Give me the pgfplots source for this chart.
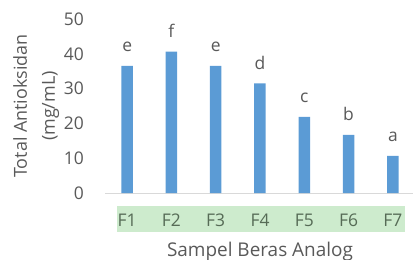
\documentclass[border=0pt]{standalone}
\usepackage{fontspec}
\setmainfont{Open Sans}
\usepackage{pgfplots}
\pgfplotsset{compat=1.18}
\usepackage{pgfplotstable}
\definecolor{barblue}{HTML}{5B9BD5}
\definecolor{txtgray}{HTML}{595959}
\definecolor{txtgreen}{HTML}{566B56}
\definecolor{band}{HTML}{CDEBCD}
\definecolor{axisgray}{HTML}{D9D9D9}
\pgfplotstableread{
x y lab
0 36.5 e
1 40.6 f
2 36.5 e
3 31.5 d
4 21.9 c
5 16.7 b
6 10.7 a
}\datatable
\begin{document}
\begin{tikzpicture}[x=1bp,y=1bp]
\useasboundingbox (0,0) rectangle (413,260);
\fill[band] (117,28) rectangle (405,54);
\begin{axis}[
  at={(105bp,67bp)}, anchor=south west,
  width=310bp, height=174bp, scale only axis,
  xmin=-0.5, xmax=6.5, ymin=0, ymax=50,
  axis x line*=bottom, axis y line*=left,
  y axis line style={draw=none},
  x axis line style={draw=axisgray, line width=1bp},
  xtick={0,...,6}, xticklabels={F1,F2,F3,F4,F5,F6,F7},
  ytick={0,10,20,30,40,50},
  major tick length=0pt,
  tick style={draw=none},
  /pgf/number format/assume math mode=true,
  tick label style={font=\fontsize{17.5}{21}\selectfont, text=txtgray},
  xticklabel style={anchor=center, yshift=-27bp, text=txtgreen},
  yticklabel style={anchor=east, inner sep=0pt, xshift=-21bp},
  xlabel={Sampel Beras Analog},
  xlabel style={at={(axis description cs:0.5,0)}, anchor=center, yshift=-58.5bp, font=\fontsize{19}{23}\selectfont, text=txtgray},
  ylabel={Total Antioksidan\\(mg/mL)},
  ylabel style={at={(axis description cs:-0.222,0.5)}, anchor=center, align=center, font=\fontsize{18}{28}\selectfont, text=txtgray},
  ybar, bar width=11.5bp,
  nodes near coords,
  point meta=explicit symbolic,
  every node near coord/.append style={anchor=base, yshift=14bp, font=\fontsize{17.5}{21}\selectfont, text=txtgray},
  clip=false,
]
\addplot[fill=barblue, draw=none] table[x=x, y=y, meta=lab] {\datatable};
\end{axis}
\end{tikzpicture}
\end{document}
